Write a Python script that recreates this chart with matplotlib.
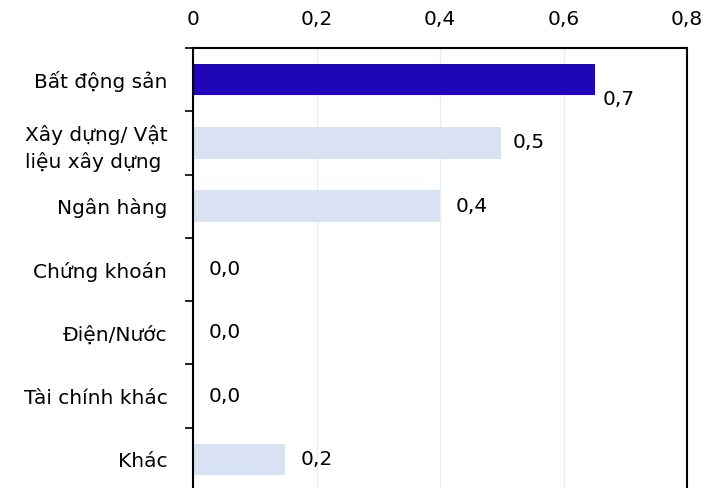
import numpy as np
import matplotlib.pyplot as plt

# Dữ liệu
nganh = ["Bất động sản", "Xây dựng/ Vật\nliệu xây dựng ", "Ngân hàng", "Chứng khoán",
         "Điện/Nước", "Tài chính khác", "Khác"]
gia_tri = [0.651, 0.499, 0.400, 0.0, 0.0, 0.0, 0.149]
mau = ["#1F06B8"] + ["#D9E2F3"] * 6
nhan = ["0,7", "0,5", "0,4", "0,0", "0,0", "0,0", "0,2"]
xticks = [0, 0.2, 0.4, 0.6, 0.8]
xtick_labels = ["0", "0,2", "0,4", "0,6", "0,8"]

# vị trí nhãn (điểm lệch so với đầu thanh)
lech = [(5.8, -14.5), (8, 0), (11, 0), (11.5, 0), (11.5, 0), (11.5, 0), (11, 0)]

plt.rcParams['font.family'] = ['DejaVu Sans']
plt.rcParams['font.size'] = 14.5

fig = plt.figure(figsize=(7.2, 4.88), dpi=100)
ax = fig.add_axes([193 / 720, 1 - 491 / 488, 494 / 720, 443 / 488])

y = np.arange(len(nganh))
ax.barh(y, gia_tri, height=0.5, color=mau, zorder=2)

ax.set_ylim(len(nganh) - 0.5, -0.5)
ax.set_xlim(0, 0.8)

# Nhãn giá trị
for i, (v, t) in enumerate(zip(gia_tri, nhan)):
    ax.annotate(t, (v, i), xytext=lech[i], textcoords="offset points",
                va="center", ha="left")

# Trục x ở trên
ax.xaxis.tick_top()
ax.set_xticks(xticks)
ax.set_xticklabels(xtick_labels)
ax.tick_params(axis="x", length=0, pad=14)
ax.grid(axis="x", color="#E9EDF7", linewidth=1, zorder=0)

# Trục y: vạch ở ranh giới các nhóm
ax.set_yticks(y)
ax.set_yticklabels(nganh, linespacing=1.45)
ax.tick_params(axis="y", length=0, pad=18.5)
ax.set_yticks(np.arange(len(nganh) + 1) - 0.5, minor=True)
ax.tick_params(axis="y", which="minor", length=6, width=1.2, direction="out")

for s in ["top", "left", "right"]:
    ax.spines[s].set_linewidth(1.5)
ax.spines["bottom"].set_visible(False)

fig.savefig("out.png", dpi=100)
